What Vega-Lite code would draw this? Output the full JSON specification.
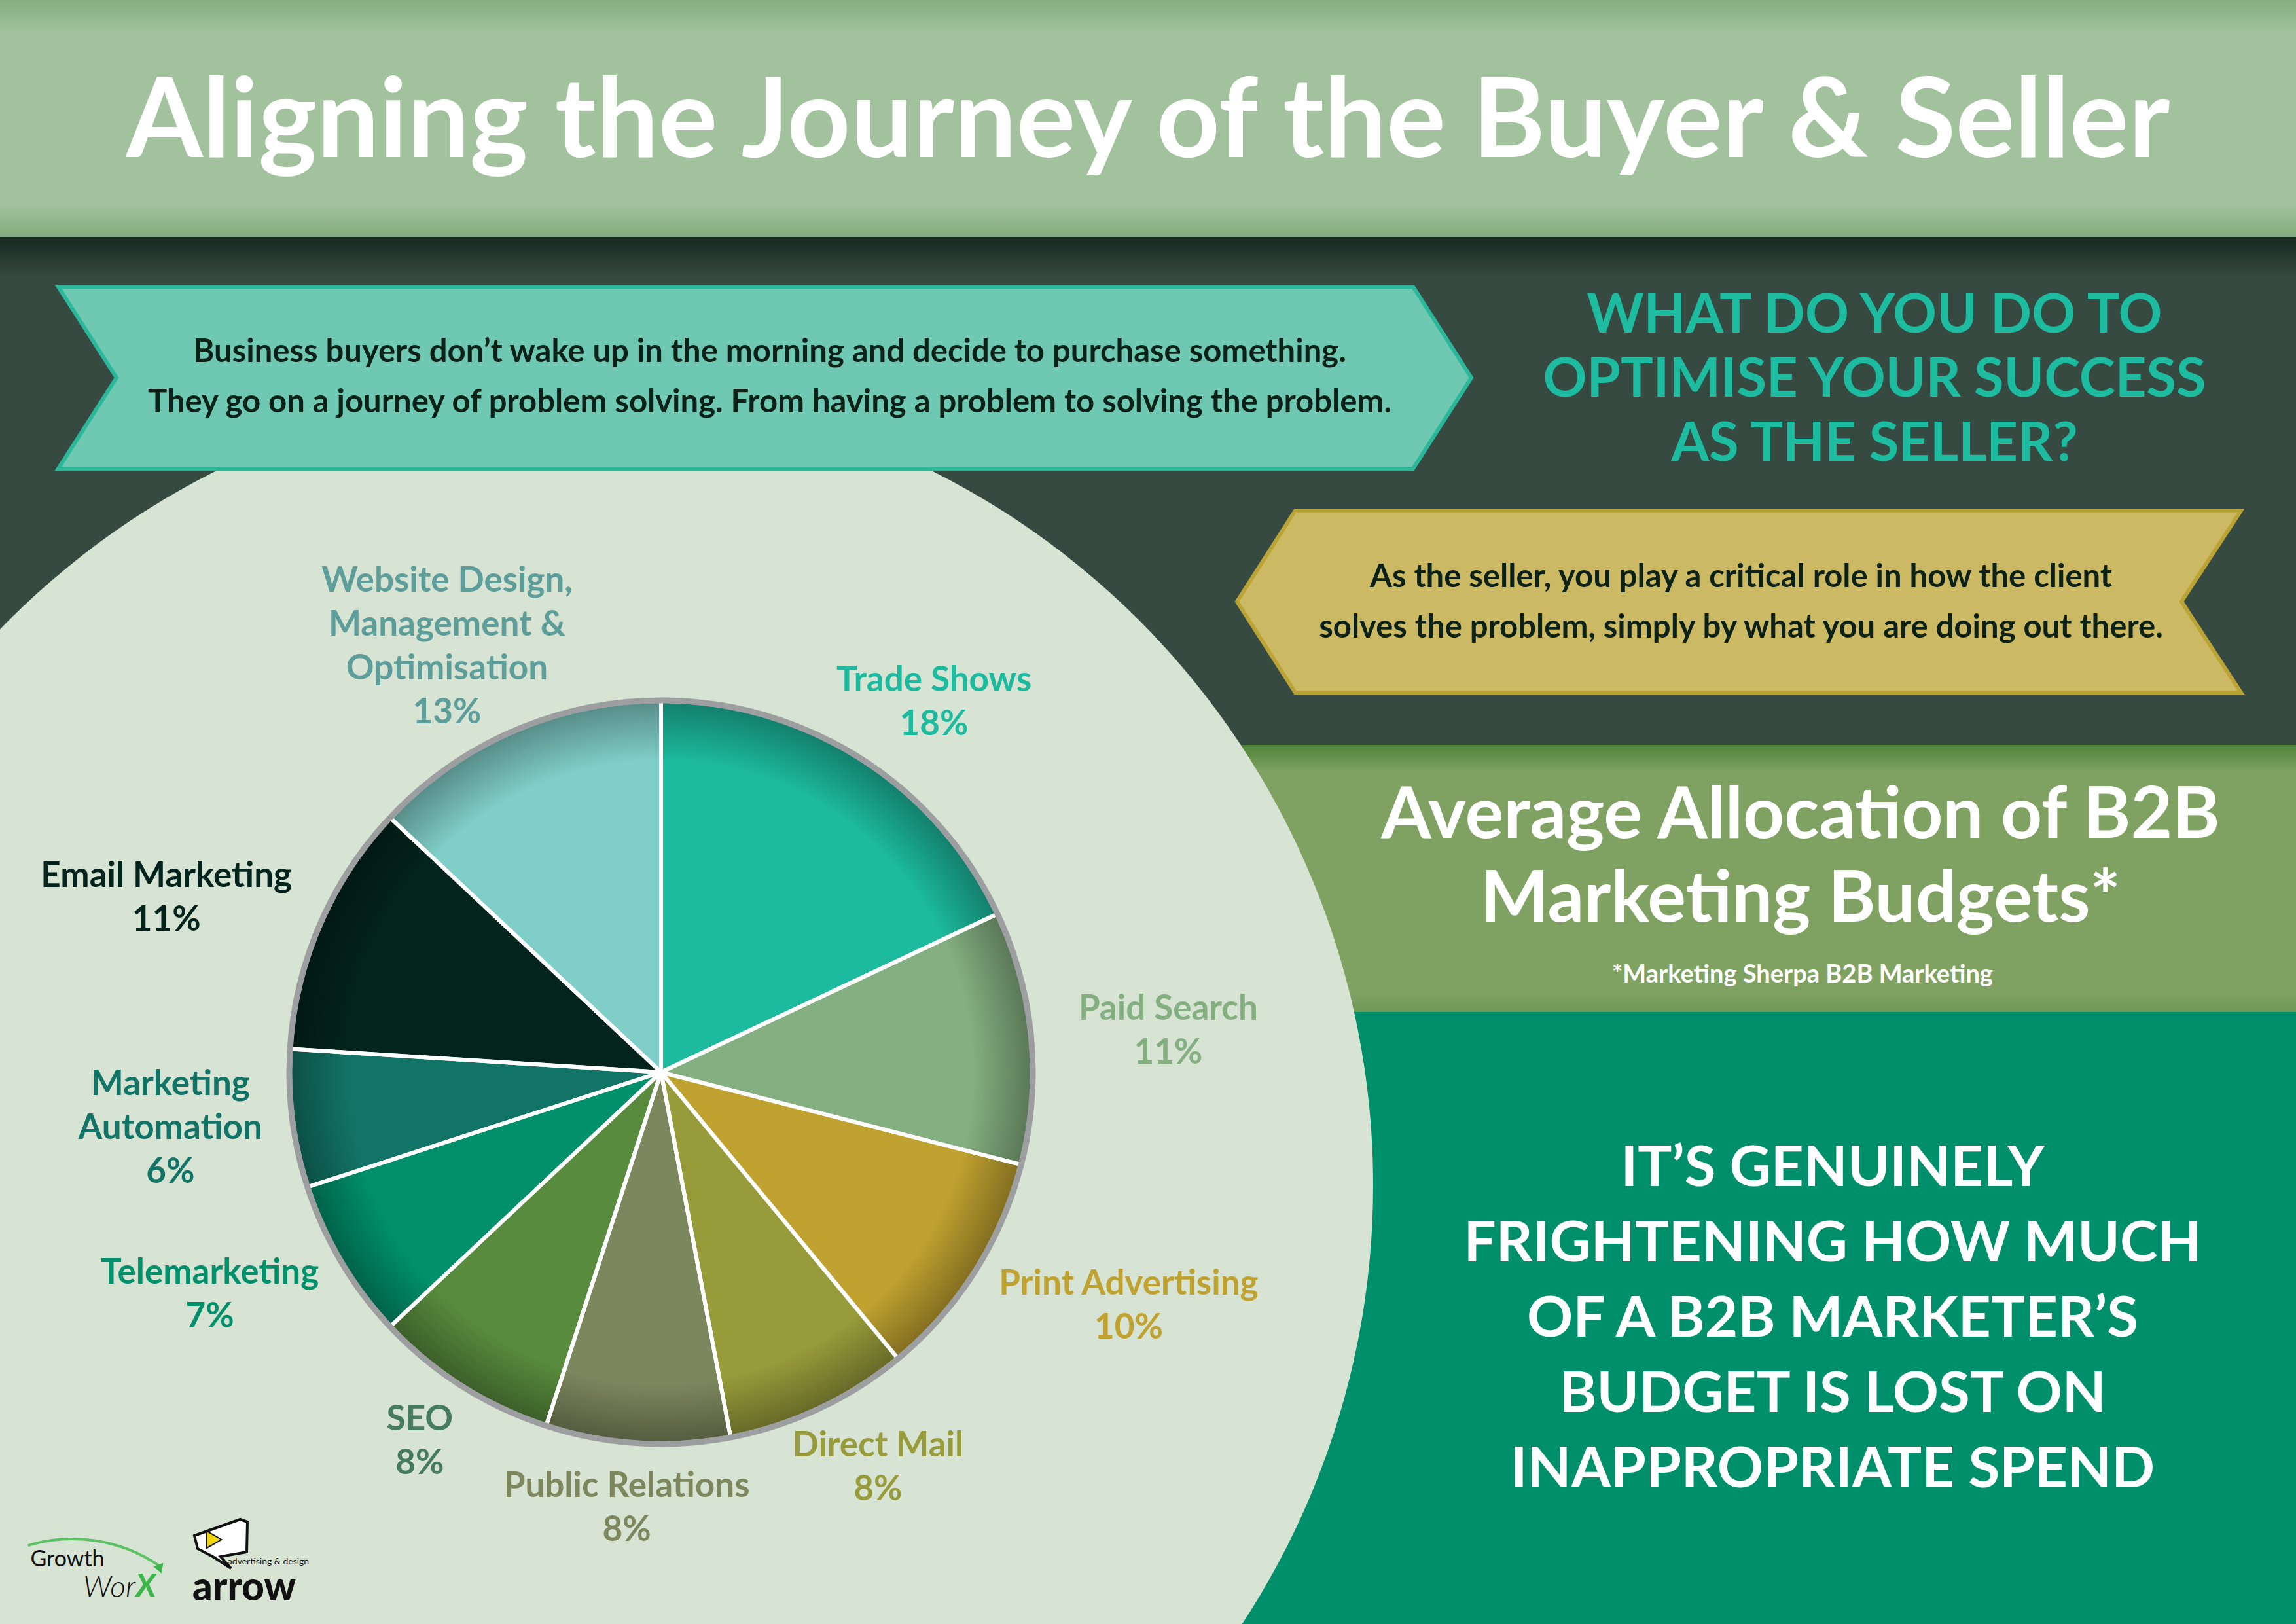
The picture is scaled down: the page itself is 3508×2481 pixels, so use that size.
{
  "$schema": "https://vega.github.io/schema/vega-lite/v6.json",
  "description": "Aligning the Journey of the Buyer & Seller - average allocation of B2B marketing budgets",
  "width": 3508,
  "height": 2481,
  "autosize": {"type": "fit", "contains": "padding"},
  "padding": 0,
  "background": "#374a42",
  "config": {
    "view": {"stroke": null},
    "axis": {"disable": true},
    "legend": {"disable": true},
    "text": {"font": "Lato", "fontWeight": "bold"}
  },
  "datasets": {
    "budget": [
      {"idx": 1, "category": "Trade Shows", "label": "Trade Shows", "share": 18},
      {"idx": 2, "category": "Paid Search", "label": "Paid Search", "share": 11},
      {"idx": 3, "category": "Print Advertising", "label": "Print Advertising", "share": 10},
      {"idx": 4, "category": "Direct Mail", "label": "Direct Mail", "share": 8},
      {"idx": 5, "category": "Public Relations", "label": "Public Relations", "share": 8},
      {"idx": 6, "category": "SEO", "label": "SEO", "share": 8},
      {"idx": 7, "category": "Telemarketing", "label": "Telemarketing", "share": 7},
      {"idx": 8, "category": "Marketing Automation", "label": "Marketing|Automation", "share": 6},
      {"idx": 9, "category": "Email Marketing", "label": "Email Marketing", "share": 11},
      {"idx": 10, "category": "Website Design, Management & Optimisation", "label": "Website Design,|Management &|Optimisation", "share": 13}
    ],
    "one": [{}]
  },
  "layer": [
    {
      "data": {"name": "one"},
      "mark": {"type": "rect", "clip": true, "color": {"gradient": "linear", "x1": 0, "y1": 0, "x2": 0, "y2": 1,
        "stops": [{"offset": 0, "color": "#17281f"}, {"offset": 0.03, "color": "#374a42"}, {"offset": 1, "color": "#374a42"}]}},
      "encoding": {
        "x": {"datum": 0, "type": "quantitative", "scale": {"domain": [0, 3508], "nice": false, "zero": false}, "axis": null},
        "x2": {"datum": 3508},
        "y": {"datum": 362, "type": "quantitative", "scale": {"domain": [0, 2481], "nice": false, "zero": false, "reverse": true}, "axis": null},
        "y2": {"datum": 2481}
      }
    },
    {
      "data": {"name": "one"},
      "mark": {"type": "rect", "clip": true, "color": {"gradient": "linear", "x1": 0, "y1": 0, "x2": 0, "y2": 1,
        "stops": [{"offset": 0, "color": "#4f833a"}, {"offset": 0.1, "color": "#7fa262"}, {"offset": 0.93, "color": "#7fa262"}, {"offset": 1, "color": "#6f9855"}]}},
      "encoding": {
        "x": {"datum": 1800, "type": "quantitative", "scale": {"domain": [0, 3508], "nice": false, "zero": false}, "axis": null},
        "x2": {"datum": 3508},
        "y": {"datum": 1138, "type": "quantitative", "scale": {"domain": [0, 2481], "nice": false, "zero": false, "reverse": true}, "axis": null},
        "y2": {"datum": 1546}
      }
    },
    {
      "data": {"name": "one"},
      "mark": {"type": "rect", "clip": true, "color": "#008f6b"},
      "encoding": {
        "x": {"datum": 1800, "type": "quantitative", "scale": {"domain": [0, 3508], "nice": false, "zero": false}, "axis": null},
        "x2": {"datum": 3508},
        "y": {"datum": 1546, "type": "quantitative", "scale": {"domain": [0, 2481], "nice": false, "zero": false, "reverse": true}, "axis": null},
        "y2": {"datum": 2481}
      }
    },
    {
      "data": {"name": "one"},
      "mark": {"type": "arc", "clip": true, "radius": 1221, "theta": 0, "theta2": 6.2832, "color": "#d7e3d3"},
      "encoding": {
        "x": {"datum": 877, "type": "quantitative", "scale": {"domain": [0, 3508], "nice": false, "zero": false}, "axis": null},
        "y": {"datum": 1811, "type": "quantitative", "scale": {"domain": [0, 2481], "nice": false, "zero": false, "reverse": true}, "axis": null}
      }
    },
    {
      "data": {"name": "one"},
      "mark": {"type": "rect", "clip": true, "color": {"gradient": "linear", "x1": 0, "y1": 0, "x2": 0, "y2": 1,
        "stops": [{"offset": 0, "color": "#86ae82"}, {"offset": 0.14, "color": "#a1c29d"}, {"offset": 0.86, "color": "#a1c29d"}, {"offset": 1, "color": "#84ac80"}]}},
      "encoding": {
        "x": {"datum": 0, "type": "quantitative", "scale": {"domain": [0, 3508], "nice": false, "zero": false}, "axis": null},
        "x2": {"datum": 3508},
        "y": {"datum": 0, "type": "quantitative", "scale": {"domain": [0, 2481], "nice": false, "zero": false, "reverse": true}, "axis": null},
        "y2": {"datum": 362}
      }
    },
    {
      "data": {"name": "budget"},
      "mark": {"type": "arc", "radius": 567},
      "encoding": {
        "x": {"datum": 1010, "type": "quantitative", "scale": {"domain": [0, 3508], "nice": false, "zero": false}, "axis": null},
        "y": {"datum": 1638, "type": "quantitative", "scale": {"domain": [0, 2481], "nice": false, "zero": false, "reverse": true}, "axis": null},
        "theta": {"field": "share", "type": "quantitative", "stack": true, "scale": {"domain": [0, 100]}},
        "order": {"field": "idx", "type": "quantitative"},
        "color": {
          "field": "category", "type": "nominal", "legend": null,
          "scale": {
            "domain": ["Trade Shows", "Paid Search", "Print Advertising", "Direct Mail", "Public Relations", "SEO", "Telemarketing", "Marketing Automation", "Email Marketing", "Website Design, Management & Optimisation"],
            "range": ["#1cba9e", "#84af80", "#c0a230", "#979b3a", "#7d875e", "#588b3d", "#00906b", "#127466", "#03241c", "#80cec8"]
          }
        }
      }
    },
    {
      "data": {"name": "one"},
      "mark": {"type": "arc", "radius": 567, "theta": 0, "theta2": 6.2832, "color": {"gradient": "radial", "x1": 0.5, "y1": 0.5, "r1": 0, "x2": 0.5, "y2": 0.5, "r2": 0.5,
        "stops": [{"offset": 0, "color": "rgba(0,0,0,0)"}, {"offset": 0.84, "color": "rgba(0,0,0,0)"}, {"offset": 1, "color": "rgba(0,0,0,0.32)"}]}},
      "encoding": {
        "x": {"datum": 1010, "type": "quantitative", "scale": {"domain": [0, 3508], "nice": false, "zero": false}, "axis": null},
        "y": {"datum": 1638, "type": "quantitative", "scale": {"domain": [0, 2481], "nice": false, "zero": false, "reverse": true}, "axis": null}
      }
    },
    {
      "data": {"name": "budget"},
      "mark": {"type": "arc", "radius": 567, "filled": false, "stroke": "#ffffff", "strokeWidth": 6},
      "encoding": {
        "x": {"datum": 1010, "type": "quantitative", "scale": {"domain": [0, 3508], "nice": false, "zero": false}, "axis": null},
        "y": {"datum": 1638, "type": "quantitative", "scale": {"domain": [0, 2481], "nice": false, "zero": false, "reverse": true}, "axis": null},
        "theta": {"field": "share", "type": "quantitative", "stack": true, "scale": {"domain": [0, 100]}},
        "order": {"field": "idx", "type": "quantitative"}
      }
    },
    {
      "data": {"name": "one"},
      "mark": {"type": "arc", "radius": 568, "theta": 0, "theta2": 6.2832, "filled": false, "stroke": "#9c9ea0", "strokeWidth": 9},
      "encoding": {
        "x": {"datum": 1010, "type": "quantitative", "scale": {"domain": [0, 3508], "nice": false, "zero": false}, "axis": null},
        "y": {"datum": 1638, "type": "quantitative", "scale": {"domain": [0, 2481], "nice": false, "zero": false, "reverse": true}, "axis": null}
      }
    },
    {
      "data": {"name": "budget"},
      "transform": [
        {"stack": "share", "groupby": [], "sort": [{"field": "idx", "order": "ascending"}], "as": ["s0", "s1"]},
        {"calculate": "PI * (datum.s0 + datum.s1) / 100", "as": "angle"},
        {"calculate": "datum.label + '|' + datum.share + '%'", "as": "caption"},
        {"calculate": "length(split(datum.caption, '|'))", "as": "lines"},
        {"calculate": "length(split(datum.label, '|')[0])", "as": "chars"},
        {"calculate": "1010 + sin(datum.angle) * (654 + 11.3 * datum.chars)", "as": "lx"},
        {"calculate": "1638 - cos(datum.angle) * (628 + 20 * datum.lines) - (datum.lines - 1) * 33.5", "as": "ly"}
      ],
      "mark": {"type": "text", "fontSize": 53, "lineHeight": 67, "lineBreak": "|", "align": "center", "baseline": "middle"},
      "encoding": {
        "x": {"field": "lx", "type": "quantitative", "scale": {"domain": [0, 3508], "nice": false, "zero": false}, "axis": null},
        "y": {"field": "ly", "type": "quantitative", "scale": {"domain": [0, 2481], "nice": false, "zero": false, "reverse": true}, "axis": null},
        "text": {"field": "caption", "type": "nominal"},
        "color": {
          "field": "category", "type": "nominal", "legend": null,
          "scale": {
            "domain": ["Trade Shows", "Paid Search", "Print Advertising", "Direct Mail", "Public Relations", "SEO", "Telemarketing", "Marketing Automation", "Email Marketing", "Website Design, Management & Optimisation"],
            "range": ["#1cba9e", "#84af80", "#c0a230", "#979b3a", "#7d875e", "#477b5f", "#00906b", "#127466", "#03241c", "#5e9e9a"]
          }
        }
      }
    },
    {
      "data": {"name": "one"},
      "mark": {"type": "point", "clip": true, "shape": "M-1.079,-0.139 L0.991,-0.139 L1.080,0 L0.991,0.139 L-1.079,0.139 L-0.990,0 Z",
        "size": 4000000, "filled": true, "opacity": 1, "color": "#6fc8b2", "stroke": "#2bb89a", "strokeWidth": 6},
      "encoding": {
        "x": {"datum": 1168, "type": "quantitative", "scale": {"domain": [0, 3508], "nice": false, "zero": false}, "axis": null},
        "y": {"datum": 577, "type": "quantitative", "scale": {"domain": [0, 2481], "nice": false, "zero": false, "reverse": true}, "axis": null}
      }
    },
    {
      "data": {"name": "one"},
      "mark": {"type": "point", "clip": true, "shape": "M-0.678,-0.139 L0.767,-0.139 L0.676,0 L0.767,0.139 L-0.678,0.139 L-0.767,0 Z",
        "size": 4000000, "filled": true, "opacity": 1, "color": "#ccb963", "stroke": "#bba436", "strokeWidth": 6},
      "encoding": {
        "x": {"datum": 2657, "type": "quantitative", "scale": {"domain": [0, 3508], "nice": false, "zero": false}, "axis": null},
        "y": {"datum": 919, "type": "quantitative", "scale": {"domain": [0, 2481], "nice": false, "zero": false, "reverse": true}, "axis": null}
      }
    },
    {
      "data": {"name": "one"},
      "mark": {"type": "text", "text": "Aligning the Journey of the Buyer & Seller", "fontSize": 169, "align": "center", "baseline": "alphabetic", "color": "#ffffff"},
      "encoding": {
        "x": {"datum": 1754, "type": "quantitative", "scale": {"domain": [0, 3508], "nice": false, "zero": false}, "axis": null},
        "y": {"datum": 240, "type": "quantitative", "scale": {"domain": [0, 2481], "nice": false, "zero": false, "reverse": true}, "axis": null}
      }
    },
    {
      "data": {"name": "one"},
      "mark": {"type": "text", "text": ["Business buyers don’t wake up in the morning and decide to purchase something.", "They go on a journey of problem solving. From having a problem to solving the problem."],
        "fontSize": 49, "lineHeight": 77, "align": "center", "baseline": "alphabetic", "color": "#0c2117"},
      "encoding": {
        "x": {"datum": 1176, "type": "quantitative", "scale": {"domain": [0, 3508], "nice": false, "zero": false}, "axis": null},
        "y": {"datum": 553, "type": "quantitative", "scale": {"domain": [0, 2481], "nice": false, "zero": false, "reverse": true}, "axis": null}
      }
    },
    {
      "data": {"name": "one"},
      "mark": {"type": "text", "text": ["WHAT DO YOU DO TO", "OPTIMISE YOUR SUCCESS", "AS THE SELLER?"],
        "fontSize": 83, "lineHeight": 98, "align": "center", "baseline": "alphabetic", "color": "#1dbb9f"},
      "encoding": {
        "x": {"datum": 2864, "type": "quantitative", "scale": {"domain": [0, 3508], "nice": false, "zero": false}, "axis": null},
        "y": {"datum": 508, "type": "quantitative", "scale": {"domain": [0, 2481], "nice": false, "zero": false, "reverse": true}, "axis": null}
      }
    },
    {
      "data": {"name": "one"},
      "mark": {"type": "text", "text": ["As the seller, you play a critical role in how the client", "solves the problem, simply by what you are doing out there."],
        "fontSize": 49, "lineHeight": 77, "align": "center", "baseline": "alphabetic", "color": "#0c2117"},
      "encoding": {
        "x": {"datum": 2660, "type": "quantitative", "scale": {"domain": [0, 3508], "nice": false, "zero": false}, "axis": null},
        "y": {"datum": 897, "type": "quantitative", "scale": {"domain": [0, 2481], "nice": false, "zero": false, "reverse": true}, "axis": null}
      }
    },
    {
      "data": {"name": "one"},
      "mark": {"type": "text", "text": ["Average Allocation of B2B", "Marketing Budgets*"],
        "fontSize": 110, "lineHeight": 128, "align": "center", "baseline": "alphabetic", "color": "#ffffff"},
      "encoding": {
        "x": {"datum": 2751, "type": "quantitative", "scale": {"domain": [0, 3508], "nice": false, "zero": false}, "axis": null},
        "y": {"datum": 1280, "type": "quantitative", "scale": {"domain": [0, 2481], "nice": false, "zero": false, "reverse": true}, "axis": null}
      }
    },
    {
      "data": {"name": "one"},
      "mark": {"type": "text", "text": "*Marketing Sherpa B2B Marketing", "fontSize": 38, "align": "center", "baseline": "alphabetic", "color": "#ffffff"},
      "encoding": {
        "x": {"datum": 2754, "type": "quantitative", "scale": {"domain": [0, 3508], "nice": false, "zero": false}, "axis": null},
        "y": {"datum": 1501, "type": "quantitative", "scale": {"domain": [0, 2481], "nice": false, "zero": false, "reverse": true}, "axis": null}
      }
    },
    {
      "data": {"name": "one"},
      "mark": {"type": "text", "text": ["IT’S GENUINELY", "FRIGHTENING HOW MUCH", "OF A B2B MARKETER’S", "BUDGET IS LOST ON", "INAPPROPRIATE SPEND"],
        "fontSize": 87, "lineHeight": 115, "align": "center", "baseline": "alphabetic", "color": "#ffffff"},
      "encoding": {
        "x": {"datum": 2800, "type": "quantitative", "scale": {"domain": [0, 3508], "nice": false, "zero": false}, "axis": null},
        "y": {"datum": 1812, "type": "quantitative", "scale": {"domain": [0, 2481], "nice": false, "zero": false, "reverse": true}, "axis": null}
      }
    },
    {
      "data": {"name": "one"},
      "mark": {"type": "arc", "clip": true, "radius": 236, "radius2": 232, "theta": -0.295, "theta2": 0.6, "color": "#5cc064"},
      "encoding": {
        "x": {"datum": 111, "type": "quantitative", "scale": {"domain": [0, 3508], "nice": false, "zero": false}, "axis": null},
        "y": {"datum": 2585, "type": "quantitative", "scale": {"domain": [0, 2481], "nice": false, "zero": false, "reverse": true}, "axis": null}
      }
    },
    {
      "data": {"name": "one"},
      "mark": {"type": "point", "shape": "triangle-up", "angle": 40, "size": 260, "filled": true, "opacity": 1, "color": "#3cb54a"},
      "encoding": {
        "x": {"datum": 245, "type": "quantitative", "scale": {"domain": [0, 3508], "nice": false, "zero": false}, "axis": null},
        "y": {"datum": 2393, "type": "quantitative", "scale": {"domain": [0, 2481], "nice": false, "zero": false, "reverse": true}, "axis": null}
      }
    },
    {
      "data": {"name": "one"},
      "mark": {"type": "text", "text": "Growth", "fontSize": 34, "fontWeight": "normal", "align": "center", "baseline": "alphabetic", "color": "#111111"},
      "encoding": {
        "x": {"datum": 103, "type": "quantitative", "scale": {"domain": [0, 3508], "nice": false, "zero": false}, "axis": null},
        "y": {"datum": 2393, "type": "quantitative", "scale": {"domain": [0, 2481], "nice": false, "zero": false, "reverse": true}, "axis": null}
      }
    },
    {
      "data": {"name": "one"},
      "mark": {"type": "text", "text": "Wor", "fontSize": 46, "fontWeight": 300, "fontStyle": "italic", "align": "right", "baseline": "alphabetic", "color": "#111111"},
      "encoding": {
        "x": {"datum": 207, "type": "quantitative", "scale": {"domain": [0, 3508], "nice": false, "zero": false}, "axis": null},
        "y": {"datum": 2440, "type": "quantitative", "scale": {"domain": [0, 2481], "nice": false, "zero": false, "reverse": true}, "axis": null}
      }
    },
    {
      "data": {"name": "one"},
      "mark": {"type": "text", "text": "X", "fontSize": 50, "fontStyle": "italic", "align": "left", "baseline": "alphabetic", "color": "#3cb54a"},
      "encoding": {
        "x": {"datum": 207, "type": "quantitative", "scale": {"domain": [0, 3508], "nice": false, "zero": false}, "axis": null},
        "y": {"datum": 2440, "type": "quantitative", "scale": {"domain": [0, 2481], "nice": false, "zero": false, "reverse": true}, "axis": null}
      }
    },
    {
      "data": {"name": "one"},
      "mark": {"type": "point", "shape": "M-0.80,-0.20 L0.60,-0.70 L0.82,-0.62 L0.80,0.30 L0,0.44 L0.32,0.80 L-0.24,0.44 L-0.70,0.20 Z",
        "size": 10000, "filled": true, "opacity": 1, "color": "#ffffff", "stroke": "#111111", "strokeWidth": 4},
      "encoding": {
        "x": {"datum": 337, "type": "quantitative", "scale": {"domain": [0, 3508], "nice": false, "zero": false}, "axis": null},
        "y": {"datum": 2356, "type": "quantitative", "scale": {"domain": [0, 2481], "nice": false, "zero": false, "reverse": true}, "axis": null}
      }
    },
    {
      "data": {"name": "one"},
      "mark": {"type": "point", "shape": "triangle-right", "size": 700, "filled": true, "opacity": 1, "color": "#f2d60c", "stroke": "#111111", "strokeWidth": 2},
      "encoding": {
        "x": {"datum": 327, "type": "quantitative", "scale": {"domain": [0, 3508], "nice": false, "zero": false}, "axis": null},
        "y": {"datum": 2352, "type": "quantitative", "scale": {"domain": [0, 2481], "nice": false, "zero": false, "reverse": true}, "axis": null}
      }
    },
    {
      "data": {"name": "one"},
      "mark": {"type": "text", "text": "advertising & design", "fontSize": 14, "fontWeight": "normal", "align": "center", "baseline": "alphabetic", "color": "#111111"},
      "encoding": {
        "x": {"datum": 410, "type": "quantitative", "scale": {"domain": [0, 3508], "nice": false, "zero": false}, "axis": null},
        "y": {"datum": 2390, "type": "quantitative", "scale": {"domain": [0, 2481], "nice": false, "zero": false, "reverse": true}, "axis": null}
      }
    },
    {
      "data": {"name": "one"},
      "mark": {"type": "text", "text": "arrow", "fontSize": 60, "fontWeight": 900, "align": "center", "baseline": "alphabetic", "color": "#111111"},
      "encoding": {
        "x": {"datum": 373, "type": "quantitative", "scale": {"domain": [0, 3508], "nice": false, "zero": false}, "axis": null},
        "y": {"datum": 2445, "type": "quantitative", "scale": {"domain": [0, 2481], "nice": false, "zero": false, "reverse": true}, "axis": null}
      }
    }
  ],
  "resolve": {"scale": {"color": "independent"}}
}
